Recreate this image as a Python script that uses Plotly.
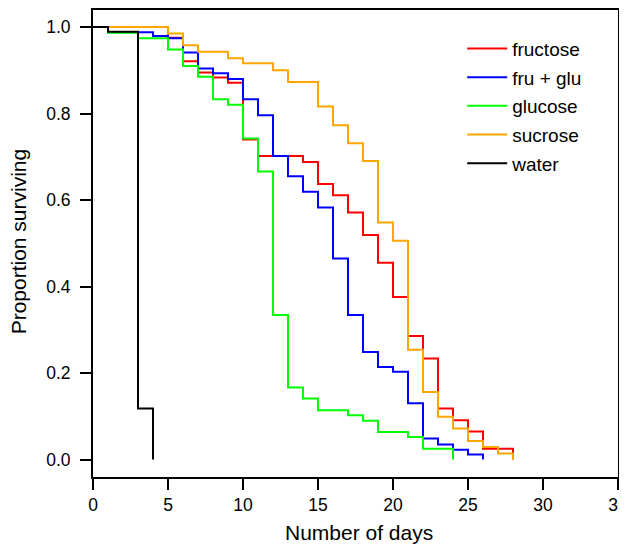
import plotly.graph_objects as go

# ---- data ----
series_names = ["fructose", "fru + glu", "glucose", "sucrose", "water"]
series_colors = ["#FF0000", "#0000FF", "#00FF00", "#FFA500", "#000000"]

fructose_days = [0, 5, 6, 7, 8, 9, 10, 11, 14, 15, 16, 17, 18, 19, 20, 21, 22, 23, 24, 25, 26, 28]
fructose_surv = [1.0, 0.975, 0.921, 0.895, 0.883, 0.871, 0.740, 0.702, 0.688, 0.637, 0.611,
                 0.571, 0.519, 0.455, 0.376, 0.286, 0.234, 0.118, 0.091, 0.065, 0.025, 0.0]

frugl_days = [0, 1, 4, 5, 6, 7, 8, 9, 10, 11, 12, 13, 14, 15, 16, 17, 18, 19, 20, 21, 22, 23, 24, 25, 26]
frugl_surv = [1.0, 0.988, 0.979, 0.974, 0.941, 0.904, 0.893, 0.880, 0.833, 0.796, 0.702, 0.655,
              0.619, 0.583, 0.465, 0.334, 0.249, 0.214, 0.203, 0.130, 0.049, 0.035, 0.023, 0.012, 0.0]

glucose_days = [0, 1, 3, 5, 6, 7, 8, 9, 10, 11, 12, 13, 14, 15, 17, 18, 19, 21, 22, 24]
glucose_surv = [1.0, 0.987, 0.974, 0.948, 0.910, 0.885, 0.833, 0.820, 0.742, 0.666, 0.334,
                0.1665, 0.141, 0.114, 0.1025, 0.090, 0.064, 0.052, 0.025, 0.0]

sucrose_days = [0, 5, 6, 7, 9, 10, 12, 13, 15, 16, 17, 18, 19, 20, 21, 22, 23, 24, 25, 26, 27, 28]
sucrose_surv = [1.0, 0.985, 0.958, 0.943, 0.928, 0.916, 0.900, 0.873, 0.816, 0.773, 0.731,
                0.690, 0.548, 0.506, 0.254, 0.156, 0.099, 0.072, 0.043, 0.029, 0.014, 0.0]

water_days = [0, 1, 3, 4]
water_surv = [1.0, 0.989, 0.118, 0.0]

x_ticks = [0, 5, 10, 15, 20, 25, 30, 35]
y_ticks = [0.0, 0.2, 0.4, 0.6, 0.8, 1.0]
y_tick_labels = ["0.0", "0.2", "0.4", "0.6", "0.8", "1.0"]
x_title = "Number of days"
y_title = "Proportion surviving"

all_days = [fructose_days, frugl_days, glucose_days, sucrose_days, water_days]
all_surv = [fructose_surv, frugl_surv, glucose_surv, sucrose_surv, water_surv]

FONT = "Liberation Sans, Arial, Helvetica, sans-serif"

fig = go.Figure()
for name, color, d, s in zip(series_names, series_colors, all_days, all_surv):
    fig.add_trace(go.Scatter(
        x=d, y=s, mode="lines", name=name,
        line=dict(color=color, width=2, shape="hv"),
        legendgroup=name,
    ))

axis_common = dict(
    showline=True, linecolor="black", linewidth=2, mirror=True,
    ticks="outside", ticklen=11, tickwidth=2, tickcolor="black",
    showgrid=False, zeroline=False, automargin=False,
    ticklabeloverflow="allow",
    tickfont=dict(family=FONT, size=17.5, color="black"),
)

# The page body adds an 8px margin, so the figure is 8px smaller than the window
fig.update_layout(
    width=619, height=539,
    margin=dict(l=85, r=9, t=2, b=70, autoexpand=False),
    paper_bgcolor="white", plot_bgcolor="white",
    font=dict(family=FONT, color="black"),
    xaxis=dict(range=[0, 35], tickvals=x_ticks, **axis_common),
    yaxis=dict(range=[-0.0402, 1.0393], tickvals=y_ticks, ticktext=y_tick_labels,
               ticklabelstandoff=6, **axis_common),
    legend=dict(x=0.7032, y=0.958, xanchor="left", yanchor="top",
                bgcolor="rgba(0,0,0,0)", borderwidth=0,
                font=dict(family=FONT, size=19, color="black"),
                tracegroupgap=1, traceorder="grouped", itemwidth=40),
    showlegend=True,
    annotations=[
        dict(text=x_title, xref="paper", yref="paper", x=0.5067, y=-0.1199,
             xanchor="center", yanchor="middle", showarrow=False,
             font=dict(family=FONT, size=21, color="black")),
        dict(text=y_title, xref="paper", yref="paper", x=-0.1425, y=0.505,
             xanchor="center", yanchor="middle", showarrow=False, textangle=-90,
             font=dict(family=FONT, size=21, color="black")),
    ],
)

fig.write_html("out.html")
